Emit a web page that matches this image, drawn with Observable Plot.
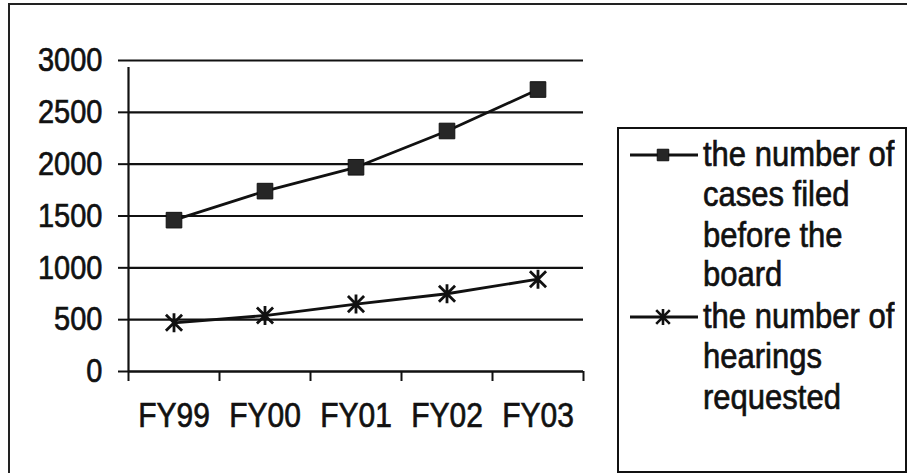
<!DOCTYPE html>
<html>
<head>
<meta charset="utf-8">
<script src="https://cdn.jsdelivr.net/npm/d3@7"></script>
<script src="https://cdn.jsdelivr.net/npm/@observablehq/plot@0.6"></script>
<style>
  html, body { margin: 0; padding: 0; background: #fff; }
  #wrap { position: relative; width: 907px; height: 473px; overflow: hidden;
          font-family: "Liberation Sans", Arial, sans-serif; color: #111; }
  #chart { position: absolute; left: 0; top: 0; }
  #chart text { stroke: #111; stroke-width: 0.6px; }
  #frame { position: absolute; left: 8px; top: 3px; width: 1000px; height: 1000px;
           border-top: 2px solid #222; border-left: 2px solid #222; pointer-events: none; }
  #legend { position: absolute; left: 617px; top: 127px; width: 286px; height: 342px;
            border: 2px solid #111; background: #fff; }
  .entry { position: absolute; left: 0; width: 286px; }
  .entry svg { position: absolute; left: 0; top: 0; }
  .entry .txt { position: absolute; left: 84px; top: 0; font-size: 31px; line-height: 34.8px;
                white-space: nowrap; color: #111; -webkit-text-stroke: 0.6px #111;
                transform: scaleY(1.15); transform-origin: 0 0; }
</style>
</head>
<body>
<div id="wrap">
  <div id="frame"></div>
  <div id="chart"></div>
  <div id="legend"></div>
</div>
<script>
// ---- data ----
const categories = ["FY99", "FY00", "FY01", "FY02", "FY03"];
const casesFiled = [1460, 1740, 1970, 2320, 2720];
const hearingsRequested = [470, 540, 650, 750, 890];
const yTicks = [0, 500, 1000, 1500, 2000, 2500, 3000];
const seriesNames = ["the number of cases filed before the board", "the number of hearings requested"];
const legendLines = [
  ["the number of", "cases filed", "before the", "board"],
  ["the number of", "hearings", "requested"]
];

// Excel-style star marker: an X plus a vertical bar
const starSymbol = {
  draw(ctx, size) {
    const r = Math.sqrt(size / Math.PI);
    const d = r * 0.85;
    ctx.moveTo(-d, -d); ctx.lineTo(d, d);
    ctx.moveTo(-d, d); ctx.lineTo(d, -d);
    ctx.moveTo(0, -r); ctx.lineTo(0, r);
  }
};

const casesRows = categories.map((c, i) => ({cat: c, pos: i + 0.5, series: seriesNames[0], value: casesFiled[i]}));
const hearRows = categories.map((c, i) => ({cat: c, pos: i + 0.5, series: seriesNames[1], value: hearingsRequested[i]}));
const rows = casesRows.concat(hearRows);

const chart = Plot.plot({
  width: 907,
  height: 473,
  marginLeft: 128,
  marginRight: 324,
  marginTop: 60,
  marginBottom: 102,
  style: {fontFamily: "'Liberation Sans', Arial, sans-serif", fontSize: "29px", color: "#111", background: "transparent", overflow: "visible"},
  x: {type: "linear", domain: [0, categories.length]},
  y: {domain: [0, 3000]},
  marks: [
    Plot.gridY(yTicks, {stroke: "#111", strokeOpacity: 1, strokeWidth: 2.2}),
    Plot.axisY(yTicks, {tickSize: 10, tickPadding: 16, tickFormat: d => String(d), strokeWidth: 2, label: null, fontSize: 29}),
    Plot.axisX(d3.range(categories.length + 1), {tickSize: 10, tickFormat: () => "", strokeWidth: 2, label: null}),
    Plot.axisX(categories.map((c, i) => i + 0.5), {tickSize: 0, tickPadding: 31, tickFormat: d => categories[Math.floor(d)], label: null, fontSize: 30}),
    Plot.ruleX([0], {y1: 0, y2: 3000, stroke: "#111", strokeWidth: 2.2, insetBottom: -7}),
    Plot.ruleY([0], {stroke: "#111", strokeWidth: 2.2}),
    Plot.line(rows, {x: "pos", y: "value", z: "series", stroke: "#111", strokeWidth: 2.8}),
    Plot.dot(casesRows, {x: "pos", y: "value", symbol: "square", r: 8.8, fill: "#262626", stroke: "#111", strokeWidth: 1}),
    Plot.dot(hearRows, {x: "pos", y: "value", symbol: starSymbol, r: 9.5, stroke: "#111", strokeWidth: 2.8, fill: "none"})
  ]
});
document.getElementById("chart").appendChild(chart);

// stretch tick labels vertically, as in the scanned original
d3.select(chart).selectAll("g[aria-label$='tick label'] text").each(function() {
  const t = this.getAttribute("transform") || "";
  this.setAttribute("transform", t + " scale(1,1.15)");
});

// ---- legend ----
const legend = d3.select("#legend");
const entryTops = [6, 168];
seriesNames.forEach((name, k) => {
  const e = legend.append("div").attr("class", "entry").style("top", entryTops[k] + "px");
  const svg = e.append("svg").attr("width", 84).attr("height", 40);
  svg.append("line").attr("x1", 11).attr("x2", 79).attr("y1", 20).attr("y2", 20)
    .attr("stroke", "#111").attr("stroke-width", 2.8);
  const sym = k === 0 ? d3.symbolSquare : starSymbol;
  const size = k === 0 ? 6.5 * 6.5 * Math.PI : 8 * 8 * Math.PI;
  const p = svg.append("path").attr("transform", "translate(44,20)")
    .attr("d", d3.symbol(sym, size)());
  if (k === 0) p.attr("fill", "#262626").attr("stroke", "#111");
  else p.attr("fill", "none").attr("stroke", "#111").attr("stroke-width", 2.6);
  e.append("div").attr("class", "txt").html(legendLines[k].join("<br>"));
});
</script>
</body>
</html>
